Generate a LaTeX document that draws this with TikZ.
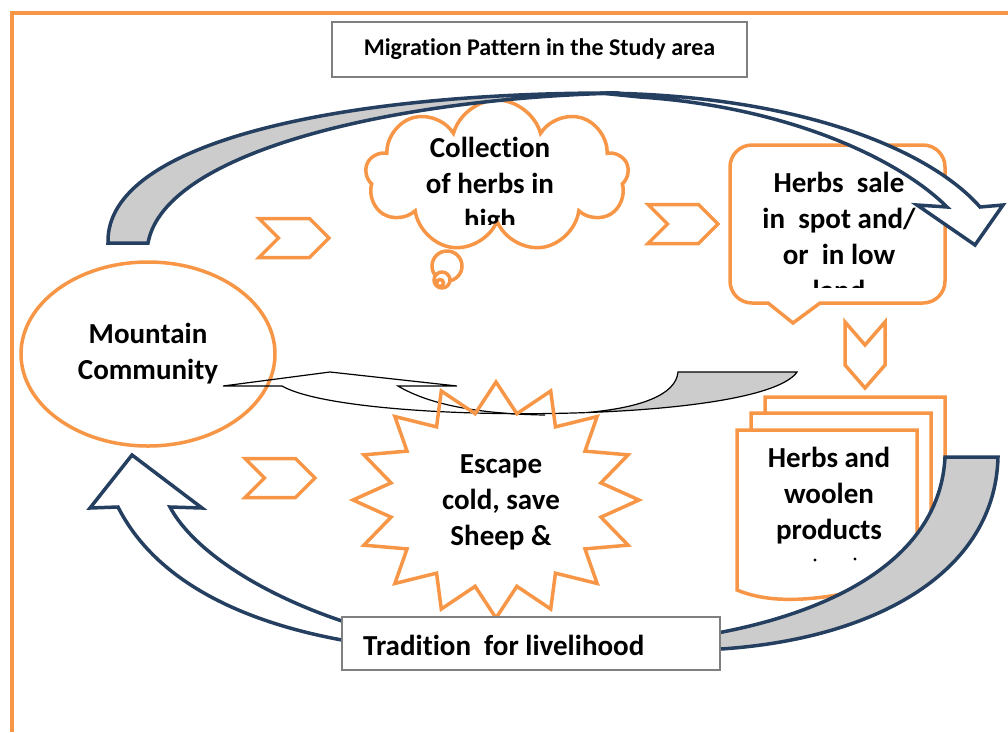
\documentclass[tikz,border=0pt]{standalone}
\usepackage{fontspec}
\setmainfont{Carlito}[Ligatures=NoCommon]
\usetikzlibrary{shapes.geometric,shapes.symbols}
\definecolor{cOrange}{HTML}{F79646}
\definecolor{cNavy}{HTML}{243F60}
\definecolor{cBand}{HTML}{CCCCCC}
\definecolor{cGrey}{HTML}{7F7F7F}
\tikzset{
  lbl/.style={font=\bfseries\fontsize{29}{36}\selectfont,align=center,inner sep=0pt},
  orng/.style={draw=cOrange,line width=3.5pt},
  chevron/.style={orng,signal,signal to=east,signal from=west,
                  minimum width=70pt,minimum height=39pt,inner sep=0pt},
  band/.style={draw=cNavy,line width=3.5pt,fill=cBand},
  hollow/.style={draw=cNavy,line width=3.5pt,fill=white},
  thinline/.style={draw=black,line width=1.2pt},
  plainbox/.style={draw=cGrey,line width=1.6pt,fill=white,inner sep=0pt},
}

\begin{document}
\begin{tikzpicture}[x=1pt,y=-1pt]
\useasboundingbox (0,0) rectangle (1008,732);

% frame and title
\draw[orng,line width=4pt] (12,732) -- (12,13) -- (1008,13);
\node[plainbox,minimum width=415pt,minimum height=55pt,
      font=\bfseries\fontsize{24}{28}\selectfont] (title) at (539.5,49.5)
      {Migration Pattern in the Study area};

% mountain community and the small chevrons
\node[orng,ellipse,minimum width=254pt,minimum height=184pt] (mount) at (148,354) {};
\node[lbl] (mounttxt) at (148,354) {Mountain\\Community};

\node[chevron] (ch1) at (294,238) {};
\node[chevron] (ch2) at (683,224) {};
\node[chevron] (ch4) at (280,478) {};
% the one pointing down
\draw[orng] (845,322) -- (865,345) -- (885,322) -- (885,365) -- (865,388)
  -- (845,365) -- cycle;

% thought cloud
\node[orng,fill=white,cloud,cloud puffs=9,cloud ignores aspect,
      minimum width=263pt,minimum height=152pt] (cloud) at (497,176) {};
\draw[orng,fill=white] (447,266) circle (15);
\draw[orng,fill=white] (442,280) circle (8);
\draw[orng,fill=white] (440,283) circle (3.5);
\begin{scope}
  \clip (380,100) rectangle (620,224);
  \node[lbl] (cloudtxt) at (490,186) {Collection\\of herbs in\\high};
\end{scope}

% speech box for the sale
\draw[orng,fill=white] (820,303) [rounded corners=22pt] -- (945,303) -- (945,145)
  -- (730,145) -- (730,303) [sharp corners] -- (768,303) -- (793,323) -- cycle;
\begin{scope}
  \clip (735,150) rectangle (940,287);
  \node[lbl] (saletxt) at (839,236) {Herbs\ \ sale\\in\ \ spot and/\\or\ \ in low\\land};
\end{scope}

% stack of papers
\foreach \dx/\dy in {28/-33,14/-17,0/0}
  \draw[orng,fill=white,shift={(\dx,\dy)}] (737,430) -- (917,430) -- (917,578)
    .. controls (860,590) and (790,612) .. (737,590) -- cycle;
\node[lbl] (stacktxt) at (829,496) {Herbs and\\woolen\\products};
\fill (815,560) circle (1.6) (855,559) circle (1.6);

% flat arrow back to the community
\draw[thinline] (282,386) -- (223,386) -- (330,372) -- (457,386) -- (398,386)
  .. controls (430,405) and (480,414) .. (545,415);
\draw[thinline] (282,386) .. controls (319.4,407.5) and (460.3,417.1) .. (585.6,412.6);
\draw[thinline,fill=cBand] (585.6,412.6) .. controls (688.2,409) and (780.4,395.9) .. (797,372)
  -- (678,372) .. controls (676,395) and (640,408) .. (585.6,412.6) -- cycle;

% winter move
\draw[orng] plot[samples at={0,...,31}]
  ({496+(mod(\x,2)==0?143:107)*sin(\x*11.25)},{500-(mod(\x,2)==0?118:88)*cos(\x*11.25)}) -- cycle;
\node[lbl] (startxt) at (501,502) {Escape\\cold, save\\Sheep \&};

% big arc over the top
\draw[band] (108,243) .. controls (105,140) and (350,92) .. (620,93)
  .. controls (400,98) and (165,150) .. (148,243) -- cycle;
\draw[hollow] (600,93) .. controls (800,95) and (930,150) .. (980,207) -- (1003,205)
  -- (975,245) -- (917,205) -- (947,207) .. controls (900,160) and (790,107) .. (640,97) -- cycle;

% lower right ribbon and return arrow
\draw[band] (945,457) -- (998,457) .. controls (995,580) and (860,645) .. (700,650)
  -- (700,636) .. controls (830,615) and (940,560) .. (945,457) -- cycle;
\draw[hollow] (118,507) -- (90,508) -- (132,455) -- (202,508) -- (170,507)
  .. controls (190,545) and (250,590) .. (342,621) -- (362,626) -- (362,644)
  -- (342,640) .. controls (260,625) and (160,590) .. (118,507) -- cycle;

\node[plainbox,minimum width=378pt,minimum height=53pt] (trad) at (531,643.5) {};
\node[lbl,anchor=base west] (tradtxt) at (363,655) {Tradition\ \ for livelihood};
\end{tikzpicture}
\end{document}
